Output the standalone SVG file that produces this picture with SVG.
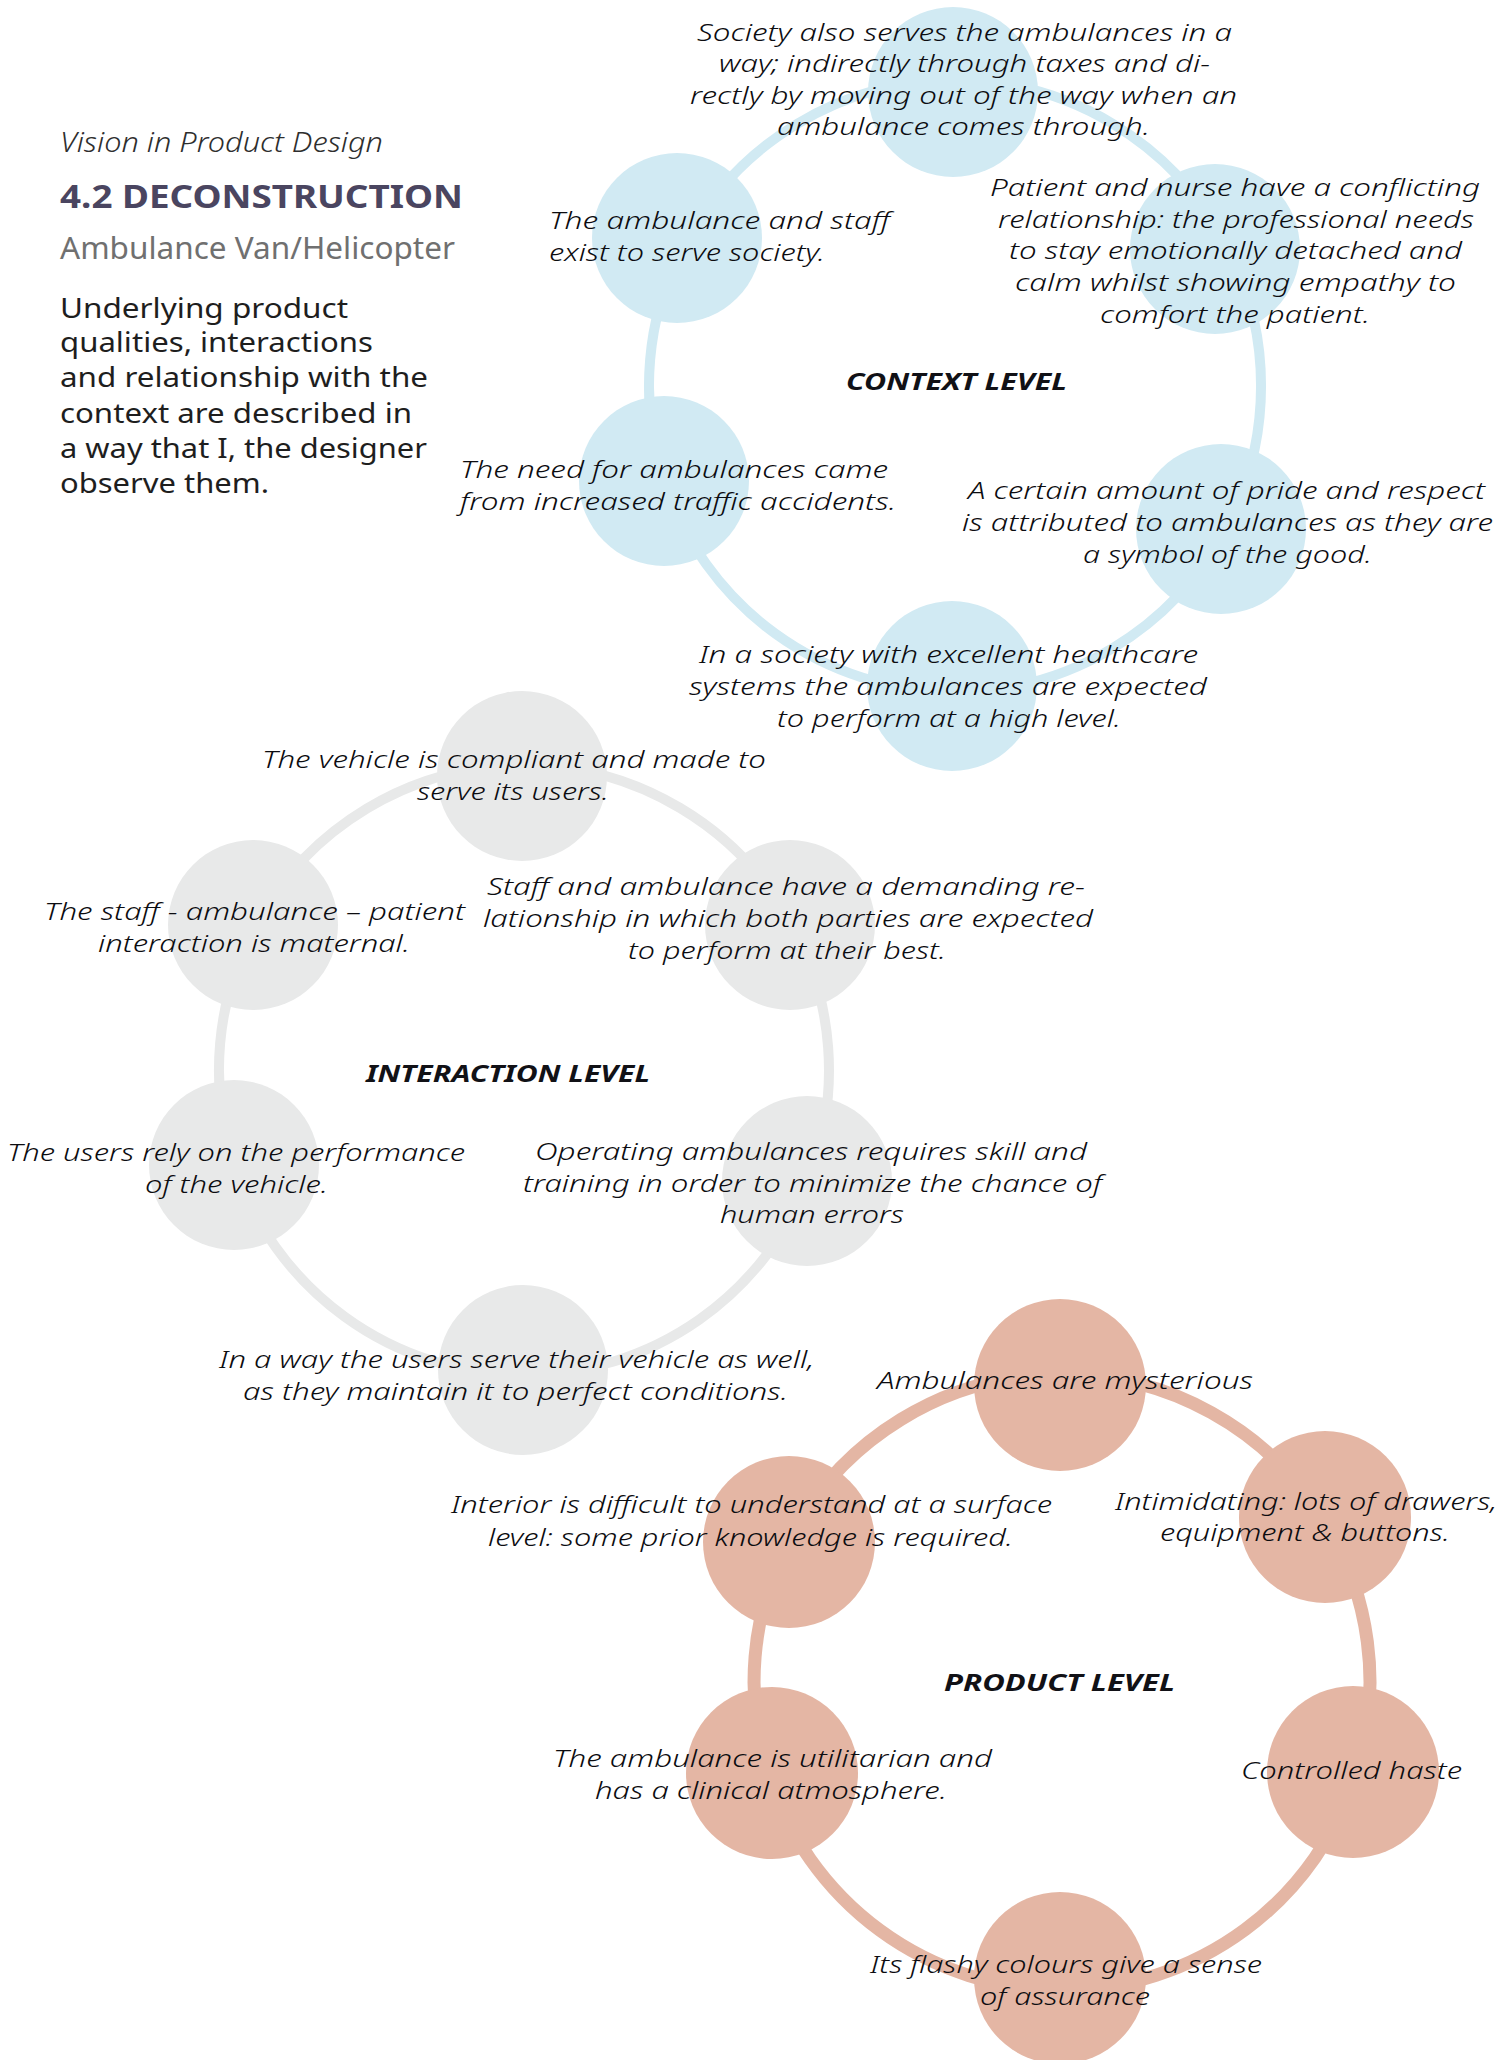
<svg xmlns="http://www.w3.org/2000/svg" width="1503" height="2060" viewBox="0 0 1503 2060">
<style>
  .t { font-family: "Noto Sans", "Open Sans", "DejaVu Sans", sans-serif; font-style: italic; font-weight: 300; font-size: 24px; fill: #0c0c10; }
  .lbl { font-family: "Noto Sans", "Open Sans", "DejaVu Sans", sans-serif; font-style: italic; font-weight: 700; font-size: 24px; fill: #111116; }
  .ctx { fill: #d1eaf3; }
  .int { fill: #e8e9e9; }
  .prd { fill: #e4b6a4; }
  .rc { fill: none; stroke: #d1eaf3; stroke-width: 10; }
  .ri { fill: none; stroke: #e8e9e9; stroke-width: 10; }
  .rp { fill: none; stroke: #e4b6a4; stroke-width: 13; }
  .hd { font-family: "Noto Sans", "Open Sans", sans-serif; }
</style>
<rect width="1503" height="2060" fill="#ffffff"/>

<g id="header">
  <text class="hd" x="60" y="152" font-size="27" font-style="italic" font-weight="300" fill="#2e2e2e" textLength="323" lengthAdjust="spacingAndGlyphs">Vision in Product Design</text>
  <text class="hd" x="60" y="208" font-size="32" font-weight="700" fill="#4a4560" textLength="403" lengthAdjust="spacingAndGlyphs">4.2 DECONSTRUCTION</text>
  <text class="hd" x="60" y="259" font-size="30" fill="#707070" textLength="395" lengthAdjust="spacingAndGlyphs">Ambulance Van/Helicopter</text>
  <text class="hd" font-size="27" fill="#1e1e1e">
    <tspan x="60" y="318" textLength="288" lengthAdjust="spacingAndGlyphs">Underlying product</tspan>
    <tspan x="60" y="352" textLength="313" lengthAdjust="spacingAndGlyphs">qualities, interactions</tspan>
    <tspan x="60" y="387" textLength="368" lengthAdjust="spacingAndGlyphs">and relationship with the</tspan>
    <tspan x="60" y="423" textLength="352" lengthAdjust="spacingAndGlyphs">context are described in</tspan>
    <tspan x="60" y="458" textLength="367" lengthAdjust="spacingAndGlyphs">a way that I, the designer</tspan>
    <tspan x="60" y="493" textLength="209" lengthAdjust="spacingAndGlyphs">observe them.</tspan>
  </text>
</g>

<g id="connectors">
  <path class="rc" d="M955,80 A306,306 0 0 1 1225.2,242.3"/>
  <path class="rc" d="M1225.2,242.3 A306,306 0 0 1 1225.2,529.7"/>
  <path class="rc" d="M1225.2,529.7 A306,306 0 0 1 955,692"/>
  <path class="rc" d="M955,692 A306,306 0 0 1 664,480.6"/>
  <path class="rc" d="M664,480.6 A306,306 0 0 1 684.8,242.3"/>
  <path class="rc" d="M684.8,242.3 A306,306 0 0 1 955,80"/>

  <path class="ri" d="M524,765 A305,305 0 0 1 792,924.5"/>
  <path class="ri" d="M792,924.5 A305,305 0 0 1 810.6,1174.3"/>
  <path class="ri" d="M810.6,1174.3 A305,305 0 0 1 524,1375"/>
  <path class="ri" d="M524,1375 A305,305 0 0 1 233.9,1164.3"/>
  <path class="ri" d="M233.9,1164.3 A305,305 0 0 1 254.7,926.8"/>
  <path class="ri" d="M254.7,926.8 A305,305 0 0 1 524,765"/>

  <path class="rp" d="M1062,1374 A308,308 0 0 1 1323.2,1518.8"/>
  <path class="rp" d="M1323.2,1518.8 A308,308 0 0 1 1356.5,1772.1"/>
  <path class="rp" d="M1356.5,1772.1 A308,308 0 0 1 1062,1990"/>
  <path class="rp" d="M1062,1990 A308,308 0 0 1 768.3,1774.6"/>
  <path class="rp" d="M768.3,1774.6 A308,308 0 0 1 787.6,1542.2"/>
  <path class="rp" d="M787.6,1542.2 A308,308 0 0 1 1062,1374"/>
</g>

<g id="context-circles">
  <circle class="ctx" cx="953" cy="92" r="85"/>
  <circle class="ctx" cx="677" cy="238" r="85"/>
  <circle class="ctx" cx="1215" cy="249" r="85"/>
  <circle class="ctx" cx="664" cy="481" r="85"/>
  <circle class="ctx" cx="1221" cy="529" r="85"/>
  <circle class="ctx" cx="952" cy="686" r="85"/>
</g>
<g id="interaction-circles">
  <circle class="int" cx="522" cy="776" r="85"/>
  <circle class="int" cx="253" cy="925" r="85"/>
  <circle class="int" cx="790" cy="925" r="85"/>
  <circle class="int" cx="234" cy="1165" r="85"/>
  <circle class="int" cx="807" cy="1181" r="85"/>
  <circle class="int" cx="523" cy="1370" r="85"/>
</g>
<g id="product-circles">
  <circle class="prd" cx="1060" cy="1385" r="86"/>
  <circle class="prd" cx="789" cy="1542" r="86"/>
  <circle class="prd" cx="1325" cy="1517" r="86"/>
  <circle class="prd" cx="772" cy="1773" r="86"/>
  <circle class="prd" cx="1353" cy="1772" r="86"/>
  <circle class="prd" cx="1060" cy="1978" r="86"/>
</g>

<g id="context-top">
  <text class="t"><tspan x="697" y="41" textLength="535" lengthAdjust="spacingAndGlyphs">Society also serves the ambulances in a</tspan><tspan x="719" y="72" textLength="491" lengthAdjust="spacingAndGlyphs">way; indirectly through taxes and di-</tspan><tspan x="690" y="104" textLength="547" lengthAdjust="spacingAndGlyphs">rectly by moving out of the way when an</tspan><tspan x="777" y="135" textLength="373" lengthAdjust="spacingAndGlyphs">ambulance comes through.</tspan></text>
</g>
<g id="context-upper-left">
  <text class="t"><tspan x="549" y="229" textLength="341" lengthAdjust="spacingAndGlyphs">The ambulance and staff</tspan><tspan x="549" y="261" textLength="276" lengthAdjust="spacingAndGlyphs">exist to serve society.</tspan></text>
</g>
<g id="context-upper-right">
  <text class="t"><tspan x="990" y="196" textLength="490" lengthAdjust="spacingAndGlyphs">Patient and nurse have a conflicting</tspan><tspan x="998" y="228" textLength="476" lengthAdjust="spacingAndGlyphs">relationship: the professional needs</tspan><tspan x="1009" y="259" textLength="453" lengthAdjust="spacingAndGlyphs">to stay emotionally detached and</tspan><tspan x="1015" y="291" textLength="441" lengthAdjust="spacingAndGlyphs">calm whilst showing empathy to</tspan><tspan x="1100" y="323" textLength="270" lengthAdjust="spacingAndGlyphs">comfort the patient.</tspan></text>
</g>
<g id="context-label">
  <text class="lbl" x="846" y="390" textLength="221" lengthAdjust="spacingAndGlyphs">CONTEXT LEVEL</text>
</g>
<g id="context-mid-left">
  <text class="t"><tspan x="460" y="478" textLength="428" lengthAdjust="spacingAndGlyphs">The need for ambulances came</tspan><tspan x="460" y="510" textLength="436" lengthAdjust="spacingAndGlyphs">from increased traffic accidents.</tspan></text>
</g>
<g id="context-mid-right">
  <text class="t"><tspan x="968" y="499" textLength="517" lengthAdjust="spacingAndGlyphs">A certain amount of pride and respect</tspan><tspan x="962" y="531" textLength="531" lengthAdjust="spacingAndGlyphs">is attributed to ambulances as they are</tspan><tspan x="1083" y="563" textLength="289" lengthAdjust="spacingAndGlyphs">a symbol of the good.</tspan></text>
</g>
<g id="context-bottom">
  <text class="t"><tspan x="699" y="663" textLength="499" lengthAdjust="spacingAndGlyphs">In a society with excellent healthcare</tspan><tspan x="689" y="695" textLength="518" lengthAdjust="spacingAndGlyphs">systems the ambulances are expected</tspan><tspan x="777" y="727" textLength="344" lengthAdjust="spacingAndGlyphs">to perform at a high level.</tspan></text>
</g>

<g id="interaction-top">
  <text class="t"><tspan x="262" y="768" textLength="504" lengthAdjust="spacingAndGlyphs">The vehicle is compliant and made to</tspan><tspan x="417" y="800" textLength="192" lengthAdjust="spacingAndGlyphs">serve its users.</tspan></text>
</g>
<g id="interaction-upper-left">
  <text class="t"><tspan x="44" y="920" textLength="421" lengthAdjust="spacingAndGlyphs">The staff - ambulance – patient</tspan><tspan x="98" y="952" textLength="312" lengthAdjust="spacingAndGlyphs">interaction is maternal.</tspan></text>
</g>
<g id="interaction-upper-right">
  <text class="t"><tspan x="487" y="895" textLength="598" lengthAdjust="spacingAndGlyphs">Staff and ambulance have a demanding re-</tspan><tspan x="483" y="927" textLength="610" lengthAdjust="spacingAndGlyphs">lationship in which both parties are expected</tspan><tspan x="628" y="959" textLength="318" lengthAdjust="spacingAndGlyphs">to perform at their best.</tspan></text>
</g>
<g id="interaction-label">
  <text class="lbl" x="366" y="1082" textLength="284" lengthAdjust="spacingAndGlyphs">INTERACTION LEVEL</text>
</g>
<g id="interaction-mid-left">
  <text class="t"><tspan x="7" y="1161" textLength="458" lengthAdjust="spacingAndGlyphs">The users rely on the performance</tspan><tspan x="145" y="1193" textLength="183" lengthAdjust="spacingAndGlyphs">of the vehicle.</tspan></text>
</g>
<g id="interaction-mid-right">
  <text class="t"><tspan x="535" y="1160" textLength="552" lengthAdjust="spacingAndGlyphs">Operating ambulances requires skill and</tspan><tspan x="523" y="1192" textLength="579" lengthAdjust="spacingAndGlyphs">training in order to minimize the chance of</tspan><tspan x="720" y="1223" textLength="184" lengthAdjust="spacingAndGlyphs">human errors</tspan></text>
</g>
<g id="interaction-bottom">
  <text class="t"><tspan x="219" y="1368" textLength="595" lengthAdjust="spacingAndGlyphs">In a way the users serve their vehicle as well,</tspan><tspan x="243" y="1400" textLength="545" lengthAdjust="spacingAndGlyphs">as they maintain it to perfect conditions.</tspan></text>
</g>

<g id="product-top">
  <text class="t" x="877" y="1389" textLength="376" lengthAdjust="spacingAndGlyphs">Ambulances are mysterious</text>
</g>
<g id="product-upper-left">
  <text class="t"><tspan x="451" y="1513" textLength="601" lengthAdjust="spacingAndGlyphs">Interior is difficult to understand at a surface</tspan><tspan x="488" y="1546" textLength="525" lengthAdjust="spacingAndGlyphs">level: some prior knowledge is required.</tspan></text>
</g>
<g id="product-upper-right">
  <text class="t"><tspan x="1115" y="1510" textLength="382" lengthAdjust="spacingAndGlyphs">Intimidating: lots of drawers,</tspan><tspan x="1160" y="1541" textLength="290" lengthAdjust="spacingAndGlyphs">equipment &amp; buttons.</tspan></text>
</g>
<g id="product-label">
  <text class="lbl" x="944" y="1691" textLength="231" lengthAdjust="spacingAndGlyphs">PRODUCT LEVEL</text>
</g>
<g id="product-mid-left">
  <text class="t"><tspan x="553" y="1767" textLength="439" lengthAdjust="spacingAndGlyphs">The ambulance is utilitarian and</tspan><tspan x="595" y="1799" textLength="352" lengthAdjust="spacingAndGlyphs">has a clinical atmosphere.</tspan></text>
</g>
<g id="product-mid-right">
  <text class="t" x="1241" y="1779" textLength="221" lengthAdjust="spacingAndGlyphs">Controlled haste</text>
</g>
<g id="product-bottom">
  <text class="t"><tspan x="870" y="1973" textLength="392" lengthAdjust="spacingAndGlyphs">Its flashy colours give a sense</tspan><tspan x="980" y="2005" textLength="170" lengthAdjust="spacingAndGlyphs">of assurance</tspan></text>
</g>
</svg>
